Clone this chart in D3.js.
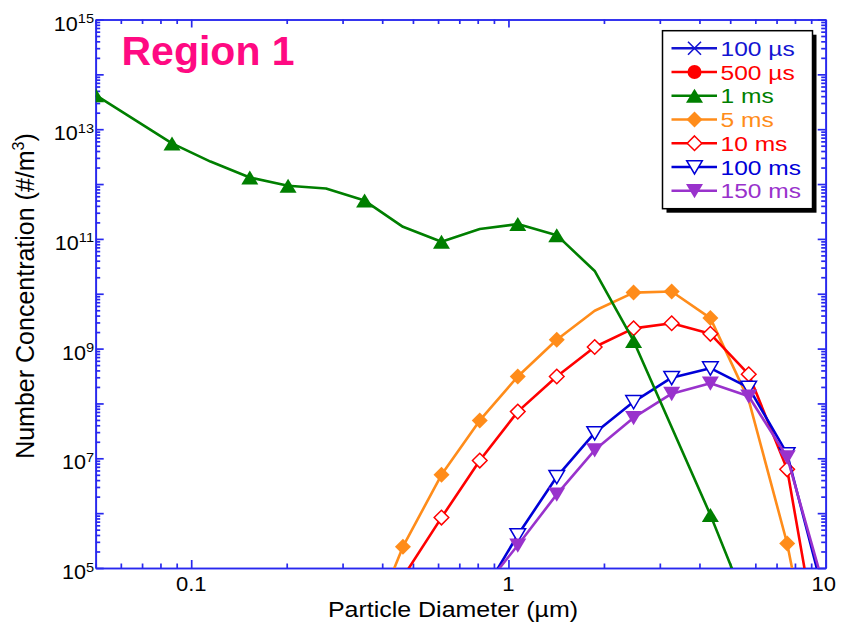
<!DOCTYPE html>
<html><head><meta charset="utf-8">
<script src="https://cdn.jsdelivr.net/npm/d3@7"></script>
<style>body{margin:0;background:#fff}svg{display:block;font-family:"Liberation Sans",Arial,sans-serif}</style>
</head><body><svg id="c" width="842" height="625"></svg>
<script>
// ---------- data ----------
const diameters = [0.05,0.066,0.087,0.115,0.153,0.202,0.266,0.352,0.465,0.615,0.812,1.07,1.42,1.87,2.48,3.27,4.33,5.72,7.56,9.99];
const seriesNames   = ["100 µs","500 µs","1 ms","5 ms","10 ms","100 ms","150 ms"];
const seriesColors  = ["#1414d2","#ff0000","#007f00","#ff8c1a","#ff0000","#0000d8","#9932cc"];
const seriesSymbols = ["cross","circle","triangleUp","diamond","diamondOpen","triangleDownOpen","triangleDown"];
// 100 µs and 500 µs lie below the plotted range (legend only)
const values100us = [];
const values500us = [];
const values1ms   = [4.17e13,null,5.5e12,2.57e12,1.32e12,9.3e11,8.3e11,5.0e11,1.66e11,8.9e10,1.51e11,1.86e11,1.17e11,2.6e10,1.38e9,null,9.3e5,1.7e4,null,null];
const values5ms   = [null,null,null,null,null,null,null,4.5e3,2.45e5,5.0e6,4.9e7,3.1e8,1.45e9,4.9e9,1.05e10,1.10e10,3.6e9,1.15e8,2.8e5,80];
const values10ms  = [null,null,null,null,null,null,null,null,6.8e4,8.3e5,9.1e6,7.1e7,3.1e8,1.07e9,2.34e9,2.9e9,1.86e9,3.4e8,6.3e6,630];
const values100ms = [null,null,null,null,null,null,null,null,null,null,2.75e4,4.0e5,4.6e6,2.9e7,1.07e8,2.95e8,4.4e8,1.95e8,1.2e7,2.4e4];
const values150ms = [null,null,null,null,null,null,null,null,null,null,3.5e4,2.6e5,2.2e6,1.41e7,5.5e7,1.51e8,2.34e8,1.35e8,1.05e7,3.5e4];
// indices of the points that carry a symbol
const marks100us = [], marks500us = [];
const marks1ms   = [0,2,4,5,7,9,11,12,14,16];
const marks5ms   = [8,9,10,11,12,14,15,16,18];
const marks10ms  = [8,9,10,11,12,13,14,15,16,17,18];
const marks100ms = [11,12,13,14,15,16,17,18];
const marks150ms = [11,12,13,14,15,16,17,18];
const xTickLabels = [0.1, 1, 10];
const yTickExponents = [5, 7, 9, 11, 13, 15];
const titleText = "Region 1";
const xTitle = "Particle Diameter (µm)";
const yTitle = "Number Concentration (#/m";

const allValues = [values100us,values500us,values1ms,values5ms,values10ms,values100ms,values150ms];
const allMarks  = [marks100us,marks500us,marks1ms,marks5ms,marks10ms,marks100ms,marks150ms];
const series = seriesNames.map((n,i)=>({name:n,color:seriesColors[i],symbol:seriesSymbols[i],
  pts: allValues[i].map((v,k)=>({d:diameters[k],v,k,m:allMarks[i].includes(k)})).filter(p=>p.v!=null)}));

// ---------- layout ----------
const L=95.7, R=825.7, T=19.5, B=568;
const axisColor = "#2828ee";
const svg = d3.select("#c");
const x = d3.scaleLog().domain([0.05,10]).range([L,R]);
const y = d3.scaleLog().domain([1e5,1e15]).range([B,T]);

svg.append("defs").append("clipPath").attr("id","clip").append("rect")
  .attr("x",L).attr("y",T).attr("width",R-L).attr("height",B-T);

// ticks
const yMajor = d3.range(5,16).map(e=>Math.pow(10,e));
const yMinor = [];
for(let e=5;e<15;e++) for(let m=2;m<=9;m++) yMinor.push(m*Math.pow(10,e));
const xMajor = [0.1,1,10];
const xMinor = [0.05,0.06,0.07,0.08,0.09,0.2,0.3,0.4,0.5,0.6,0.7,0.8,0.9,2,3,4,5,6,7,8,9];

function addAxis(gen, tx, ty, vals, size){
  const g = svg.append("g").attr("transform",`translate(${tx},${ty})`)
    .call(gen.tickValues(vals).tickSizeInner(size).tickSizeOuter(0).tickFormat(""));
  g.selectAll("path,line").attr("stroke",axisColor).attr("stroke-width",1.7);
  g.selectAll("text").remove();
  return g;
}
addAxis(d3.axisLeft(y),L,0,yMajor,-8);
addAxis(d3.axisLeft(y),L,0,yMinor,-4.5);
addAxis(d3.axisRight(y),R,0,yMajor,-8);
addAxis(d3.axisRight(y),R,0,yMinor,-4.5);
addAxis(d3.axisBottom(x),0,B,xMajor,-8);
addAxis(d3.axisBottom(x),0,B,xMinor,-4.5);
addAxis(d3.axisTop(x),0,T,xMajor,-8);
addAxis(d3.axisTop(x),0,T,xMinor,-4.5);

// tick labels
yTickExponents.forEach(e=>{
  const t = svg.append("g").attr("transform",`translate(94,${y(Math.pow(10,e))+11}) scale(1.08,1)`)
    .append("text").attr("text-anchor","end").attr("font-size",20).attr("fill","#000");
  t.append("tspan").text("10");
  t.append("tspan").attr("dy",-7.5).attr("font-size",13.5).text(e);
});
xTickLabels.forEach(v=>{
  svg.append("g").attr("transform",`translate(${x(v)-(v===10?2:0)},591) scale(1.1,1)`)
    .append("text").attr("text-anchor","middle").attr("font-size",20).attr("fill","#000").text(v);
});

// axis titles
svg.append("text").attr("x",0).attr("y",0).attr("text-anchor","middle").attr("font-size",22)
  .attr("transform","translate(453,617) scale(1.135,1)").text(xTitle);
const yt = svg.append("text").attr("text-anchor","middle").attr("font-size",25)
  .attr("transform","translate(33.5,296) rotate(-90)");
yt.append("tspan").text(yTitle);
yt.append("tspan").attr("dy",-10).attr("font-size",16).text("3");
yt.append("tspan").attr("dy",10).text(")");

// title
svg.append("text").attr("x",121.5).attr("y",65).attr("font-size",41).attr("font-weight","bold")
  .attr("fill","#ff0a82").text(titleText);

// symbols
function drawSymbol(g, type, color, cx, cy){
  const sw = 1.5;
  if(type==="cross"){
    g.append("path").attr("d",`M${cx-6.5},${cy-6.5}L${cx+6.5},${cy+6.5}M${cx-6.5},${cy+6.5}L${cx+6.5},${cy-6.5}`)
      .attr("stroke",color).attr("stroke-width",1.6).attr("fill","none");
  } else if(type==="circle"){
    g.append("circle").attr("cx",cx).attr("cy",cy).attr("r",7).attr("fill",color);
  } else if(type==="triangleUp"){
    g.append("path").attr("d",`M${cx},${cy-7}L${cx+8.5},${cy+7}L${cx-8.5},${cy+7}Z`).attr("fill",color);
  } else if(type==="diamond"){
    g.append("path").attr("d",`M${cx},${cy-8}L${cx+8},${cy}L${cx},${cy+8}L${cx-8},${cy}Z`).attr("fill",color);
  } else if(type==="diamondOpen"){
    g.append("path").attr("d",`M${cx},${cy-7.3}L${cx+7.3},${cy}L${cx},${cy+7.3}L${cx-7.3},${cy}Z`)
      .attr("fill","#fff").attr("stroke",color).attr("stroke-width",sw);
  } else if(type==="triangleDownOpen"){
    g.append("path").attr("d",`M${cx-7.8},${cy-6.3}L${cx+7.8},${cy-6.3}L${cx},${cy+7}Z`)
      .attr("fill","#fff").attr("stroke",color).attr("stroke-width",sw);
  } else if(type==="triangleDown"){
    g.append("path").attr("d",`M${cx-8.5},${cy-6.8}L${cx+8.5},${cy-6.8}L${cx},${cy+7.5}Z`).attr("fill",color);
  }
}

// series
const plot = svg.append("g").attr("clip-path","url(#clip)");
const line = d3.line().x(p=>x(p.d)).y(p=>y(p.v));
const order = [0,1,3,4,5,6,2];
order.forEach(i=>{
  const s = series[i];
  if(!s.pts.length) return;
  const g = plot.append("g");
  g.append("path").attr("d",line(s.pts)).attr("fill","none").attr("stroke",s.color)
    .attr("stroke-width",2.6).attr("stroke-linejoin","round");
  s.pts.filter(p=>p.m).forEach(p=>drawSymbol(g,s.symbol,s.color,x(p.d),y(p.v)));
});

// legend
const lg = svg.append("g");
lg.append("rect").attr("x",666.5).attr("y",34.7).attr("width",150).attr("height",178).attr("fill","#000");
lg.append("rect").attr("x",662.5).attr("y",30.7).attr("width",150).attr("height",178)
  .attr("fill","#fff").attr("stroke","#000").attr("stroke-width",1.5);
series.forEach((s,i)=>{
  const ry = 48.3 + i*23.73;
  lg.append("line").attr("x1",671.5).attr("x2",717).attr("y1",ry).attr("y2",ry)
    .attr("stroke",s.color).attr("stroke-width",2.6);
  drawSymbol(lg,s.symbol,s.color,694.5,ry);
  lg.append("g").attr("transform",`translate(720.5,${ry+7.7}) scale(1.17,1)`)
    .append("text").attr("font-size",21).attr("fill",s.color).text(s.name);
});
</script></body></html>
